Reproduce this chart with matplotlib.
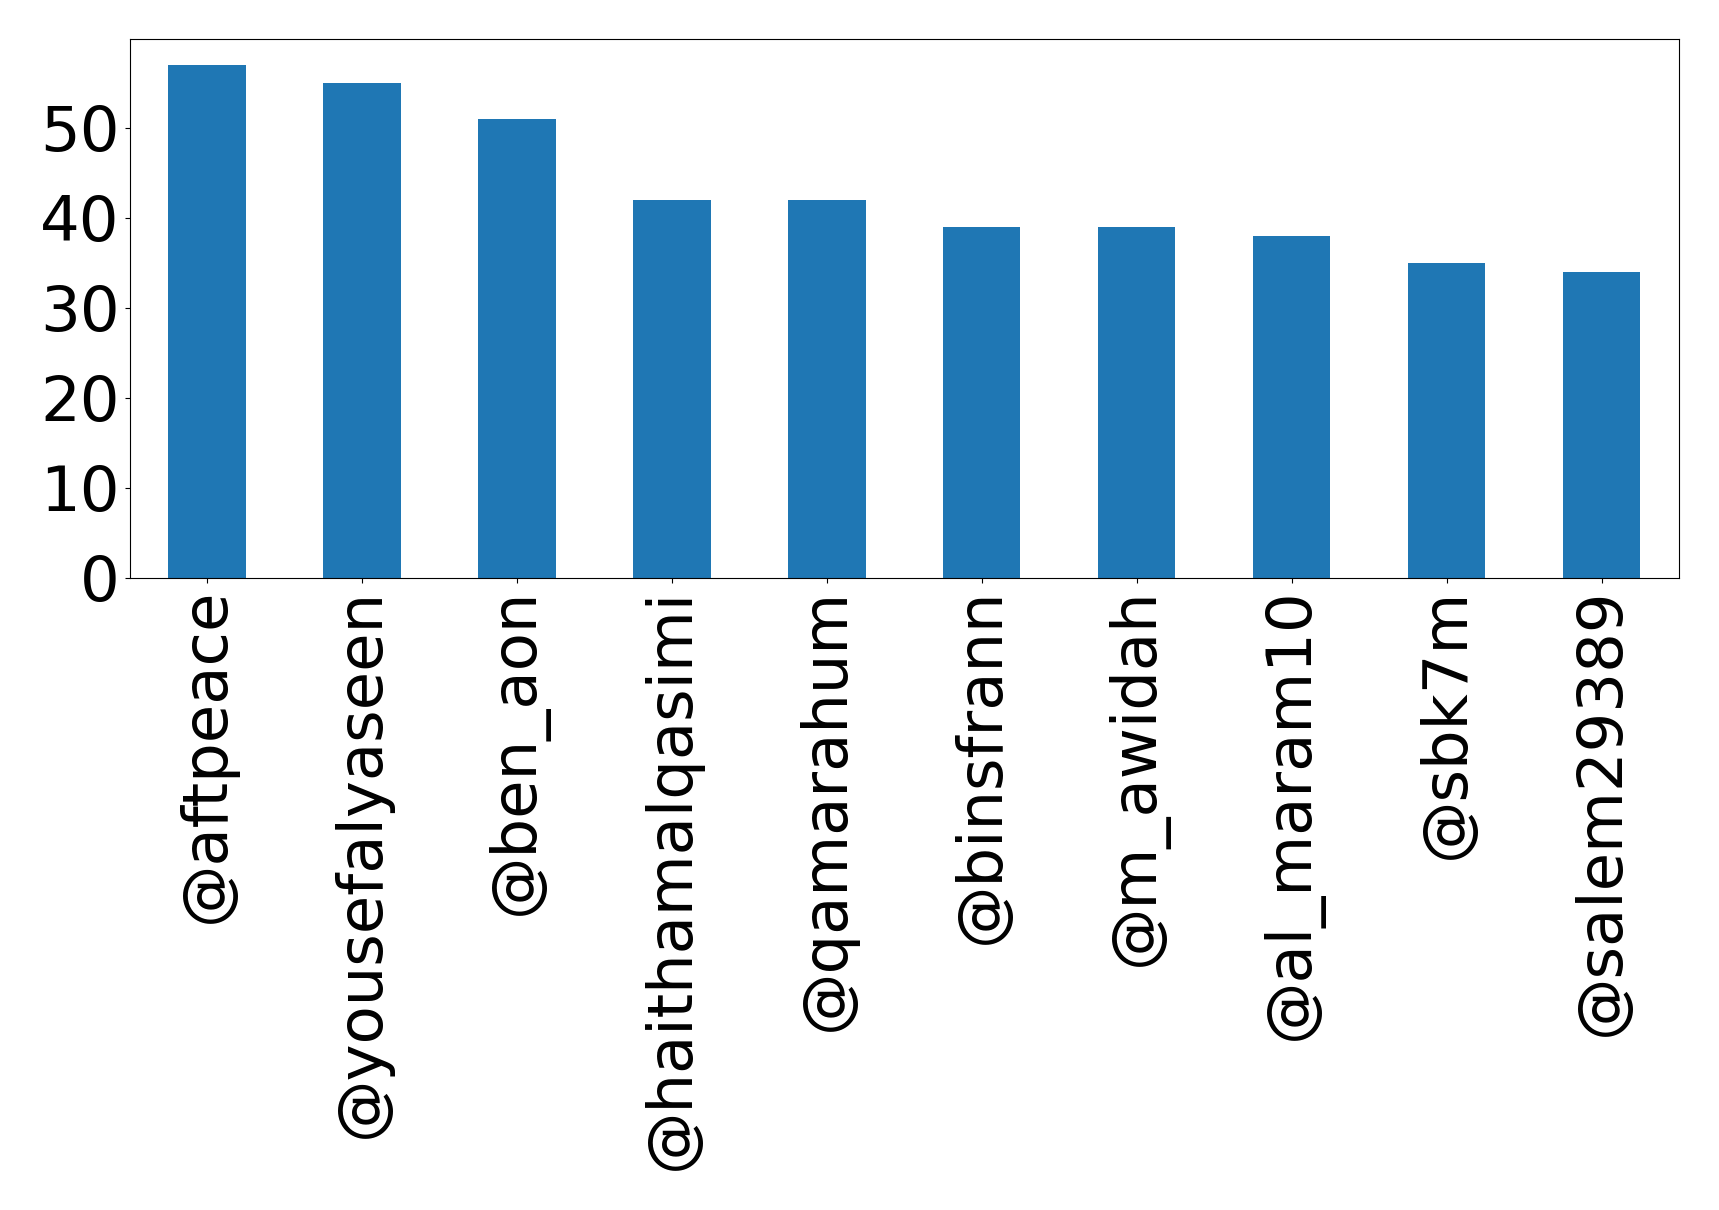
import matplotlib
matplotlib.use("Agg")
import matplotlib.pyplot as plt

# usernames and their counts
users = ['@aftpeace', '@yousefalyaseen', '@ben_aon', '@haithamalqasimi', '@qamarahum',
         '@binsfrann', '@m_awidah', '@al_maram10', '@sbk7m', '@salem29389']
counts = [57, 55, 51, 42, 42, 39, 39, 38, 35, 34]

W, H = 1719, 1210
fig = plt.figure(figsize=(W / 100, H / 100), dpi=100)
ax = fig.add_axes([129.5 / W, 1 - 578 / H, (1679 - 129.5) / W, (578 - 39) / H])

x = range(len(users))
ax.bar(x, counts, width=0.5, color='#1f77b4')
ax.set_xlim(-0.5, len(users) - 0.5)
ax.set_ylim(0, max(counts) * 1.05)
ax.set_xticks(list(x))
ax.set_xticklabels(users, rotation=90, fontsize=45)
ax.set_yticks([0, 10, 20, 30, 40, 50])
ax.tick_params(axis='y', labelsize=45)

fig.savefig('out.png', dpi=100)
